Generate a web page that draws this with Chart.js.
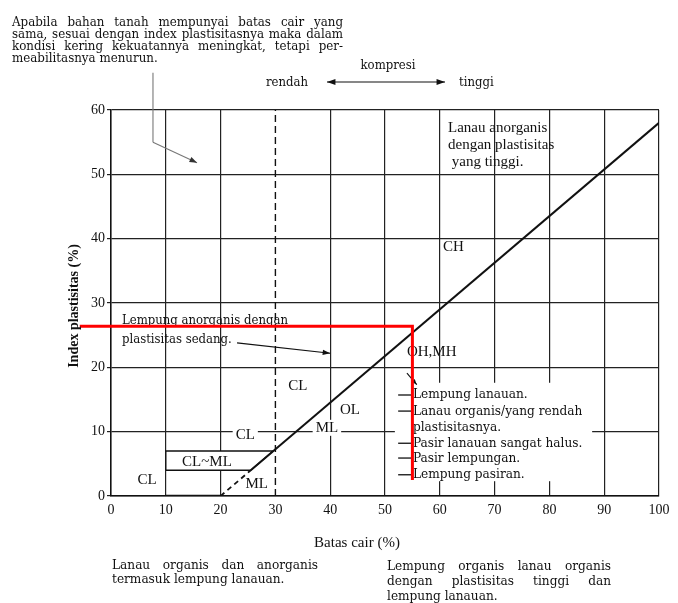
<!DOCTYPE html>
<html>
<head>
<meta charset="utf-8">
<script src="https://cdn.jsdelivr.net/npm/chart.js@4.4.1/dist/chart.umd.min.js"></script>
<style>
  html, body { margin: 0; padding: 0; background: #fff; }
  canvas { display: block; }
</style>
</head>
<body>
<canvas id="plasticity" width="678" height="603"></canvas>
<script>
// ===== DATA =====
const xTickValues = [0, 10, 20, 30, 40, 50, 60, 70, 80, 90, 100];
const yTickValues = [0, 10, 20, 30, 40, 50, 60];

// A-line (solid part and dashed foot)
const aLineLL = [25.5, 100];
const aLinePI = [4, 58];
const aLineFootLL = [20, 25.5];
const aLineFootPI = [0, 4];

// CL~ML band
const clmlLL = [10, 10, 29.6, 25.5, 10];
const clmlPI = [4, 7, 7, 4, 4];

// bold base 10..20
const baseLL = [10, 20];
const basePI = [0, 0];

// LL = 30 divider (dashed)
const divLL = [30, 30];
const divPI = [0, 60];

// red marker
const redLL = [-5.7, 55, 55];
const redPI = [26.4, 26.4, 2.5];

const pts = (xs, ys) => xs.map((x, i) => ({ x: x, y: ys[i] }));

const SERIF = "'Liberation Serif', 'DejaVu Serif', serif";
const BOOK = "'DejaVu Serif Condensed', 'DejaVu Serif', serif";
const INK = "#111";

// ===== HELPERS =====
function arrow(ctx, x1, y1, x2, y2, head) {
  const a = Math.atan2(y2 - y1, x2 - x1);
  ctx.beginPath();
  ctx.moveTo(x1, y1);
  ctx.lineTo(x2, y2);
  ctx.stroke();
  ctx.beginPath();
  ctx.moveTo(x2, y2);
  ctx.lineTo(x2 - head * Math.cos(a - 0.35), y2 - head * Math.sin(a - 0.35));
  ctx.lineTo(x2 - head * Math.cos(a + 0.35), y2 - head * Math.sin(a + 0.35));
  ctx.closePath();
  ctx.fill();
}

function justify(ctx, text, x, y, width) {
  const words = text.split(" ");
  const total = words.reduce((s, w) => s + ctx.measureText(w).width, 0);
  const gap = words.length > 1 ? (width - total) / (words.length - 1) : 0;
  let cx = x;
  words.forEach(w => {
    ctx.fillText(w, cx, y);
    cx += ctx.measureText(w).width + gap;
  });
}

function label(ctx, sx, sy, txt, x, y, align, bg) {
  const px = sx.getPixelForValue(x);
  const py = sy.getPixelForValue(y);
  ctx.textAlign = align || "left";
  if (bg) {
    const w = ctx.measureText(txt).width;
    const left = align === "center" ? px - w / 2 : px;
    ctx.fillStyle = "#fff";
    ctx.fillRect(left - 3, py - 8, w + 6, 16);
  }
  ctx.fillStyle = INK;
  ctx.fillText(txt, px, py);
}

// ===== ANNOTATIONS =====
const notes = {
  id: "notes",
  beforeDatasetsDraw(chart) {
    const ctx = chart.ctx;
    const sx = chart.scales.x, sy = chart.scales.y;
    const X = v => sx.getPixelForValue(v);
    const Y = v => sy.getPixelForValue(v);
    ctx.save();
    ctx.textBaseline = "middle";

    // white patch behind the list on the right
    ctx.fillStyle = "#fff";
    ctx.fillRect(X(51.8), Y(17.6), X(87.8) - X(51.8), Y(2.3) - Y(17.6));

    ctx.font = "15px " + SERIF;
    ctx.fillStyle = INK;

    // top right
    ["Lanau anorganis", "dengan plastisitas", " yang tinggi."].forEach((t, i) => {
      label(ctx, sx, sy, t, 61.5, 57.2 - i * 2.65, "left");
    });
    label(ctx, sx, sy, "CH", 60.6, 38.7, "left");

    // medium plasticity note
    ctx.font = "13px " + BOOK;
    label(ctx, sx, sy, "Lempung anorganis dengan", 2.0, 27.2, "left");
    label(ctx, sx, sy, "plastisitas sedang.", 2.0, 24.25, "left");

    ctx.font = "15px " + SERIF;
    label(ctx, sx, sy, "CL", 34.1, 17.1, "center");
    label(ctx, sx, sy, "OL", 43.6, 13.4, "center");
    label(ctx, sx, sy, "ML", 39.4, 10.6, "center", true);
    label(ctx, sx, sy, "CL", 24.5, 9.5, "center", true);
    label(ctx, sx, sy, "CL", 6.6, 2.5, "center");
    label(ctx, sx, sy, "ML", 26.6, 1.9, "center");
    label(ctx, sx, sy, "OH,MH", 54.0, 22.4, "left");

    // list of soils
    ctx.font = "13.5px " + BOOK;
    const list = ["Lempung lanauan.", "Lanau organis/yang rendah", "plastisitasnya.",
      "Pasir lanauan sangat halus.", "Pasir lempungan.", "Lempung pasiran."];
    const listY = [15.7, 13.2, 10.6, 8.2, 5.9, 3.3];
    list.forEach((t, i) => label(ctx, sx, sy, t, 55.1, listY[i], "left"));
    ctx.strokeStyle = INK;
    ctx.lineWidth = 1.3;
    [0, 1, 3, 4, 5].forEach(i => {
      ctx.beginPath();
      ctx.moveTo(X(52.4), Y(listY[i]));
      ctx.lineTo(X(54.9), Y(listY[i]));
      ctx.stroke();
    });

    // arrows inside plot
    ctx.fillStyle = INK;
    ctx.lineWidth = 1.1;
    arrow(ctx, X(23.0), Y(23.8), X(40.0), Y(22.2), 8);
    arrow(ctx, X(54.0), Y(19.1), X(55.8), Y(17.3), 6);

    // arrow from the paragraph
    ctx.strokeStyle = "#777";
    ctx.fillStyle = "#333";
    ctx.beginPath();
    ctx.moveTo(X(7.66), Y(65.8));
    ctx.lineTo(X(7.66), Y(55.0));
    ctx.stroke();
    arrow(ctx, X(7.66), Y(55.0), X(15.7), Y(51.8), 8);

    ctx.restore();
  },
  afterDatasetsDraw(chart) {
    const ctx = chart.ctx;
    const sx = chart.scales.x, sy = chart.scales.y;
    ctx.save();
    ctx.textBaseline = "middle";
    ctx.font = "15px " + SERIF;
    label(ctx, sx, sy, "CL~ML", 17.5, 5.3, "center");
    ctx.restore();
  },
  afterDraw(chart) {
    const ctx = chart.ctx;
    ctx.save();
    ctx.fillStyle = INK;
    ctx.strokeStyle = INK;
    ctx.textBaseline = "middle";

    // top paragraph
    ctx.font = "13.2px " + BOOK;
    ctx.textAlign = "left";
    const para = ["Apabila bahan tanah mempunyai batas cair yang",
      "sama, sesuai dengan index plastisitasnya maka dalam",
      "kondisi kering kekuatannya meningkat, tetapi per-"];
    para.forEach((t, i) => justify(ctx, t, 12, 22.5 + i * 12, 331));
    ctx.fillText("meabilitasnya menurun.", 12, 22.5 + 3 * 12);

    // compression arrow
    ctx.font = "13px " + BOOK;
    ctx.fillText("rendah", 266, 83);
    ctx.fillText("tinggi", 459, 83);
    ctx.textAlign = "center";
    ctx.fillText("kompresi", 388, 66);
    ctx.lineWidth = 1.2;
    arrow(ctx, 386, 82, 327, 82, 9);
    arrow(ctx, 386, 82, 445, 82, 9);

    // axis titles
    ctx.font = "15px " + SERIF;
    ctx.fillText("Batas cair (%)", 357, 543);
    ctx.save();
    ctx.translate(74, 306);
    ctx.rotate(-Math.PI / 2);
    ctx.font = "bold 14px " + SERIF;
    ctx.fillText("Index plastisitas (%)", 0, 0);
    ctx.restore();

    // notes under the chart
    ctx.textAlign = "left";
    ctx.font = "13.5px " + BOOK;
    justify(ctx, "Lanau organis dan anorganis", 112, 565, 206);
    ctx.fillText("termasuk lempung lanauan.", 112, 579);
    justify(ctx, "Lempung organis lanau organis", 387, 566, 224);
    justify(ctx, "dengan plastisitas tinggi dan", 387, 581, 224);
    ctx.fillText("lempung lanauan.", 387, 596);

    ctx.restore();
  }
};

// ===== CHART =====
const line = (data, color, width, dash, extra) => Object.assign({
  data: data,
  showLine: true,
  pointRadius: 0,
  borderColor: color,
  borderWidth: width,
  borderDash: dash || [],
  fill: false
}, extra || {});

new Chart(document.getElementById("plasticity"), {
  type: "scatter",
  data: {
    datasets: [
      line(pts(redLL, redPI), "#ff0000", 3, null, { clip: false }),
      line(pts(aLineLL, aLinePI), "#111", 2),
      line(pts(aLineFootLL, aLineFootPI), "#111", 1.8, [5, 4]),
      line(pts(divLL, divPI), "#111", 1.4, [7, 4]),
      line(pts(baseLL, basePI), "#111", 2.5),
      line(pts(clmlLL, clmlPI), "#111", 1.4, null, { fill: "shape", backgroundColor: "#fff" })
    ]
  },
  options: {
    responsive: false,
    animation: false,
    devicePixelRatio: 1,
    layout: { padding: { top: 110, right: 19, left: 0, bottom: 0 } },
    plugins: { legend: { display: false }, tooltip: { enabled: false } },
    scales: {
      x: {
        type: "linear",
        min: 0,
        max: 100,
        afterBuildTicks: s => { s.ticks = xTickValues.map(v => ({ value: v })); },
        afterFit: s => { s.height = 107; },
        grid: {
          color: c => (c.tick && c.tick.value === 30 ? "rgba(0,0,0,0)" : "#222"),
          lineWidth: 1.2,
          drawTicks: false
        },
        border: { color: "#111", width: 1.5 },
        ticks: { color: INK, padding: 6, font: { family: SERIF, size: 14 } }
      },
      y: {
        type: "linear",
        min: 0,
        max: 60,
        afterBuildTicks: s => { s.ticks = yTickValues.map(v => ({ value: v })); },
        afterFit: s => { s.width = 111; },
        grid: { color: "#222", lineWidth: 1.2, tickLength: 4 },
        border: { color: "#111", width: 1.5 },
        ticks: { color: INK, padding: 2, font: { family: SERIF, size: 14 } }
      }
    }
  },
  plugins: [notes]
});
</script>
</body>
</html>
